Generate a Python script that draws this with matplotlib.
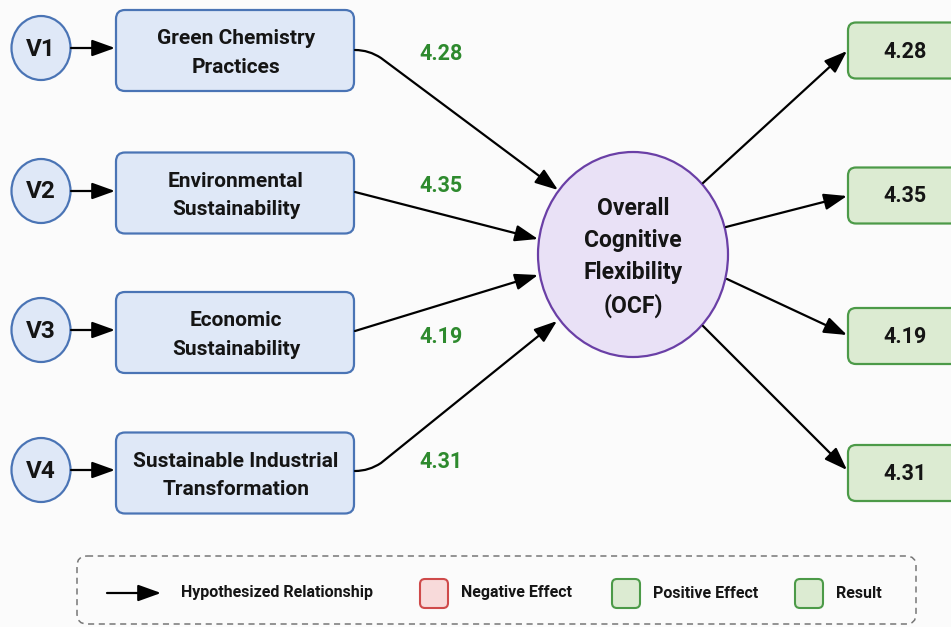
import matplotlib
matplotlib.use("Agg")
import matplotlib.pyplot as plt
from matplotlib.patches import FancyBboxPatch, Ellipse, FancyArrowPatch
from matplotlib.path import Path

plt.rcParams['font.family'] = ['Roboto', 'DejaVu Sans']

# ---- data ----
variables = ['V1', 'V2', 'V3', 'V4']
constructs = ['Green Chemistry\nPractices', 'Environmental\nSustainability',
              'Economic\nSustainability', 'Sustainable Industrial\nTransformation']
path_values = [4.28, 4.35, 4.19, 4.31]
result_values = [4.28, 4.35, 4.19, 4.31]
center_label = 'Overall\nCognitive\nFlexibility\n(OCF)'
legend_labels = ['Hypothesized Relationship', 'Negative Effect', 'Positive Effect', 'Result']

# ---- layout ----
W, H = 951, 627
fig = plt.figure(figsize=(W / 100, H / 100), dpi=100)
fig.patch.set_facecolor('#fbfbfb')
ax = fig.add_axes([0, 0, 1, 1])
ax.set_xlim(0, W)
ax.set_ylim(H, 0)
ax.axis('off')

row_y = [50.5, 193, 332.5, 473]
v_y = [48, 191, 330, 470]
res_y = [50.5, 195.5, 336, 473]

BLUE_FILL, BLUE_EDGE = '#dfe8f7', '#4a74b5'
PURP_FILL, PURP_EDGE = '#e9e1f6', '#6a3fa6'
GRN_FILL, GRN_EDGE = '#dcebd2', '#4c9a48'
GRN_TEXT = '#2e8a2e'
RED_FILL, RED_EDGE = '#f8dada', '#cf4a4a'
TXT = '#151515'
FW = 'bold'

arrow_kw = dict(arrowstyle='-|>,head_length=1.0,head_width=0.36', mutation_scale=14,
                color='black', lw=1.6, shrinkA=0, shrinkB=0)

# V circles and boxes
for i, (v, c) in enumerate(zip(variables, constructs)):
    ax.add_patch(Ellipse((41, v_y[i]), 59, 64, facecolor=BLUE_FILL, edgecolor=BLUE_EDGE, lw=1.6))
    ax.text(41, v_y[i] + 1, v, ha='center', va='center', fontsize=17.5, fontweight=FW, color=TXT)
    ax.add_patch(FancyArrowPatch((71, v_y[i]), (115, v_y[i]), **arrow_kw))
    bh = 81
    ax.add_patch(FancyBboxPatch((116, row_y[i] - bh / 2), 238, bh,
                                boxstyle='round,pad=0,rounding_size=9',
                                facecolor=BLUE_FILL, edgecolor=BLUE_EDGE, lw=1.6))
    ax.text(236, row_y[i] + 2.5, c, ha='center', va='center', fontsize=15, fontweight=FW,
            color=TXT, linespacing=1.65)

# center circle
cx, cy = 633, 254.5
ax.add_patch(Ellipse((cx, cy), 190, 205, facecolor=PURP_FILL, edgecolor=PURP_EDGE, lw=1.6))
ax.text(cx, cy + 3, center_label, ha='center', va='center', fontsize=16.5, fontweight=FW,
        color=TXT, linespacing=1.5)

# arrows into center
starts_in = [(355, 50), (355, 192), (355, 331), (355, 471)]
tips_in = [(558, 190), (538, 239), (538, 275), (557, 321)]
for i in range(4):
    (x0, y0), (x1, y1) = starts_in[i], tips_in[i]
    if i in (0, 3):
        verts = [(x0, y0), (x0 + 14, y0), (x0 + 26, y0 + (8 if i == 0 else -8)), (x1, y1)]
        codes = [Path.MOVETO, Path.CURVE3, Path.CURVE3, Path.LINETO]
        ax.add_patch(FancyArrowPatch(path=Path(verts, codes), **arrow_kw))
    else:
        ax.add_patch(FancyArrowPatch((x0, y0), (x1, y1), **arrow_kw))

label_pos = [(441, 54), (441, 186), (441, 337), (441, 462)]
for (lx, ly), val in zip(label_pos, path_values):
    ax.text(lx, ly, f'{val:.2f}', ha='center', va='center', fontsize=15.5, fontweight=FW, color=GRN_TEXT)

# arrows out and result boxes
starts_out = [(703, 183), (726, 227), (727, 279), (703, 326)]
tips_out = [(847, 51), (847, 196), (847, 335), (847, 470)]
for i, val in enumerate(result_values):
    ax.add_patch(FancyArrowPatch(starts_out[i], tips_out[i], **arrow_kw))
    rh = 56
    ax.add_patch(FancyBboxPatch((848, res_y[i] - rh / 2), 114, rh,
                                boxstyle='round,pad=0,rounding_size=8',
                                facecolor=GRN_FILL, edgecolor=GRN_EDGE, lw=1.6, clip_on=False))
    ax.text(905, res_y[i] + 1, f'{val:.2f}', ha='center', va='center', fontsize=15.5,
            fontweight=FW, color=TXT)

# legend
ax.add_patch(FancyBboxPatch((77, 556), 839, 68, boxstyle='round,pad=0,rounding_size=10',
                            facecolor='none', edgecolor='#777777', lw=1.1, linestyle=(0, (4, 3))))
ly = 593
ax.add_patch(FancyArrowPatch((107, ly), (161, ly), **arrow_kw))
ax.text(181, ly, legend_labels[0], ha='left', va='center', fontsize=11.5, fontweight=FW, color=TXT)
sw = [(420, RED_FILL, RED_EDGE, legend_labels[1], 461),
      (612, GRN_FILL, GRN_EDGE, legend_labels[2], 653),
      (795, GRN_FILL, GRN_EDGE, legend_labels[3], 836)]
for x, fc, ec, lab, tx in sw:
    ax.add_patch(FancyBboxPatch((x, 579), 28, 29, boxstyle='round,pad=0,rounding_size=5',
                                facecolor=fc, edgecolor=ec, lw=1.5))
    ax.text(tx, ly, lab, ha='left', va='center', fontsize=11.5, fontweight=FW, color=TXT)

fig.savefig('out.png', dpi=100, facecolor=fig.get_facecolor())
